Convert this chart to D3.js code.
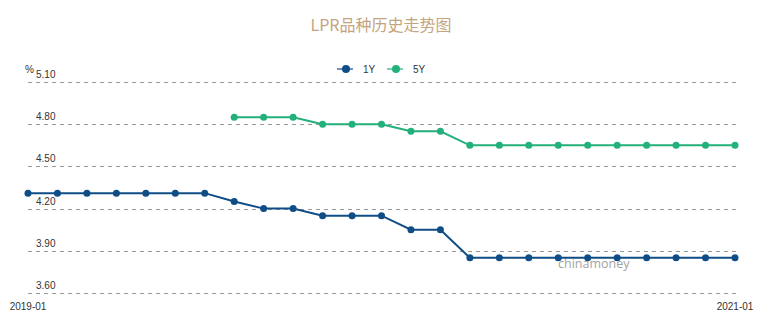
<!DOCTYPE html>
<html><head><meta charset="utf-8">
<script src="https://cdn.jsdelivr.net/npm/d3@7"></script>
<style>body{margin:0;background:#fff;}svg{display:block;font-family:"Liberation Sans",Arial,sans-serif;}</style>
</head><body><svg id="c" width="757" height="327"></svg>
<script>
const months = ["2019-01","2019-02","2019-03","2019-04","2019-05","2019-06","2019-07","2019-08","2019-09","2019-10","2019-11","2019-12","2020-01","2020-02","2020-03","2020-04","2020-05","2020-06","2020-07","2020-08","2020-09","2020-10","2020-11","2020-12","2021-01"];
const lpr1Y = [4.31,4.31,4.31,4.31,4.31,4.31,4.31,4.25,4.20,4.20,4.15,4.15,4.15,4.05,4.05,3.85,3.85,3.85,3.85,3.85,3.85,3.85,3.85,3.85,3.85];
const lpr5Y = [null,null,null,null,null,null,null,4.85,4.85,4.85,4.80,4.80,4.80,4.75,4.75,4.65,4.65,4.65,4.65,4.65,4.65,4.65,4.65,4.65,4.65];
const yTicks = [3.60,3.90,4.20,4.50,4.80,5.10];
const xLabels = ["2019-01","2021-01"];
const seriesNames = ["1Y","5Y"];
const colors = ["#0f4d87","#22b07b"];

const svg = d3.select("#c");
const x = d3.scalePoint().domain(months).range([28,735]);
const y = d3.scaleLinear().domain([3.60,5.10]).range([293,82]);

svg.append("text").attr("x",381).attr("y",31).attr("text-anchor","middle")
  .attr("font-family","'Noto Sans CJK SC',sans-serif").attr("font-size",16).attr("fill","#c4a47f").text("LPR品种历史走势图");

// grid
const grid = svg.append("g");
yTicks.forEach(t=>{
  grid.append("line").attr("x1",28).attr("x2",736).attr("y1",Math.round(y(t))+0.5).attr("y2",Math.round(y(t))+0.5)
    .attr("stroke","#999").attr("stroke-dasharray","4,4").attr("stroke-width",1);
  grid.append("text").attr("x",36).attr("y",y(t)-4).attr("font-size",10).attr("fill","#333").text(t.toFixed(2));
});
svg.append("text").attr("x",25).attr("y",73).attr("font-size",10).attr("fill","#333").text("%");

xLabels.forEach(l=>{
  svg.append("text").attr("x",x(l)).attr("y",310).attr("text-anchor","middle").attr("font-size",10).attr("fill","#333").text(l);
});

// watermark
svg.append("text").attr("x",558).attr("y",268).attr("font-family","'Open Sans',sans-serif").attr("font-size",12.5).attr("fill","#888").attr("fill-opacity",0.8).text("chinamoney");

const data = [lpr1Y,lpr5Y];
data.forEach((vals,i)=>{
  const pts = months.map((m,j)=>({m,v:vals[j]})).filter(d=>d.v!=null);
  const line = d3.line().x(d=>x(d.m)).y(d=>y(d.v));
  svg.append("path").datum(pts).attr("d",line).attr("fill","none").attr("stroke",colors[i]).attr("stroke-width",2);
  svg.append("g").selectAll("circle").data(pts).join("circle")
    .attr("cx",d=>x(d.m)).attr("cy",d=>y(d.v)).attr("r",3.5).attr("fill",colors[i]);
});

// legend
const lg = [{x:337},{x:387}];
seriesNames.forEach((n,i)=>{
  const g = svg.append("g").attr("transform",`translate(${lg[i].x},69)`);
  g.append("line").attr("x1",0).attr("x2",16).attr("y1",0).attr("y2",0).attr("stroke",colors[i]).attr("stroke-opacity",0.6).attr("stroke-width",2);
  g.append("circle").attr("cx",9).attr("cy",0).attr("r",4).attr("fill",colors[i]);
  g.append("text").attr("x",26).attr("y",3.5).attr("font-size",10).attr("fill","#333").text(n);
});
</script></body></html>
